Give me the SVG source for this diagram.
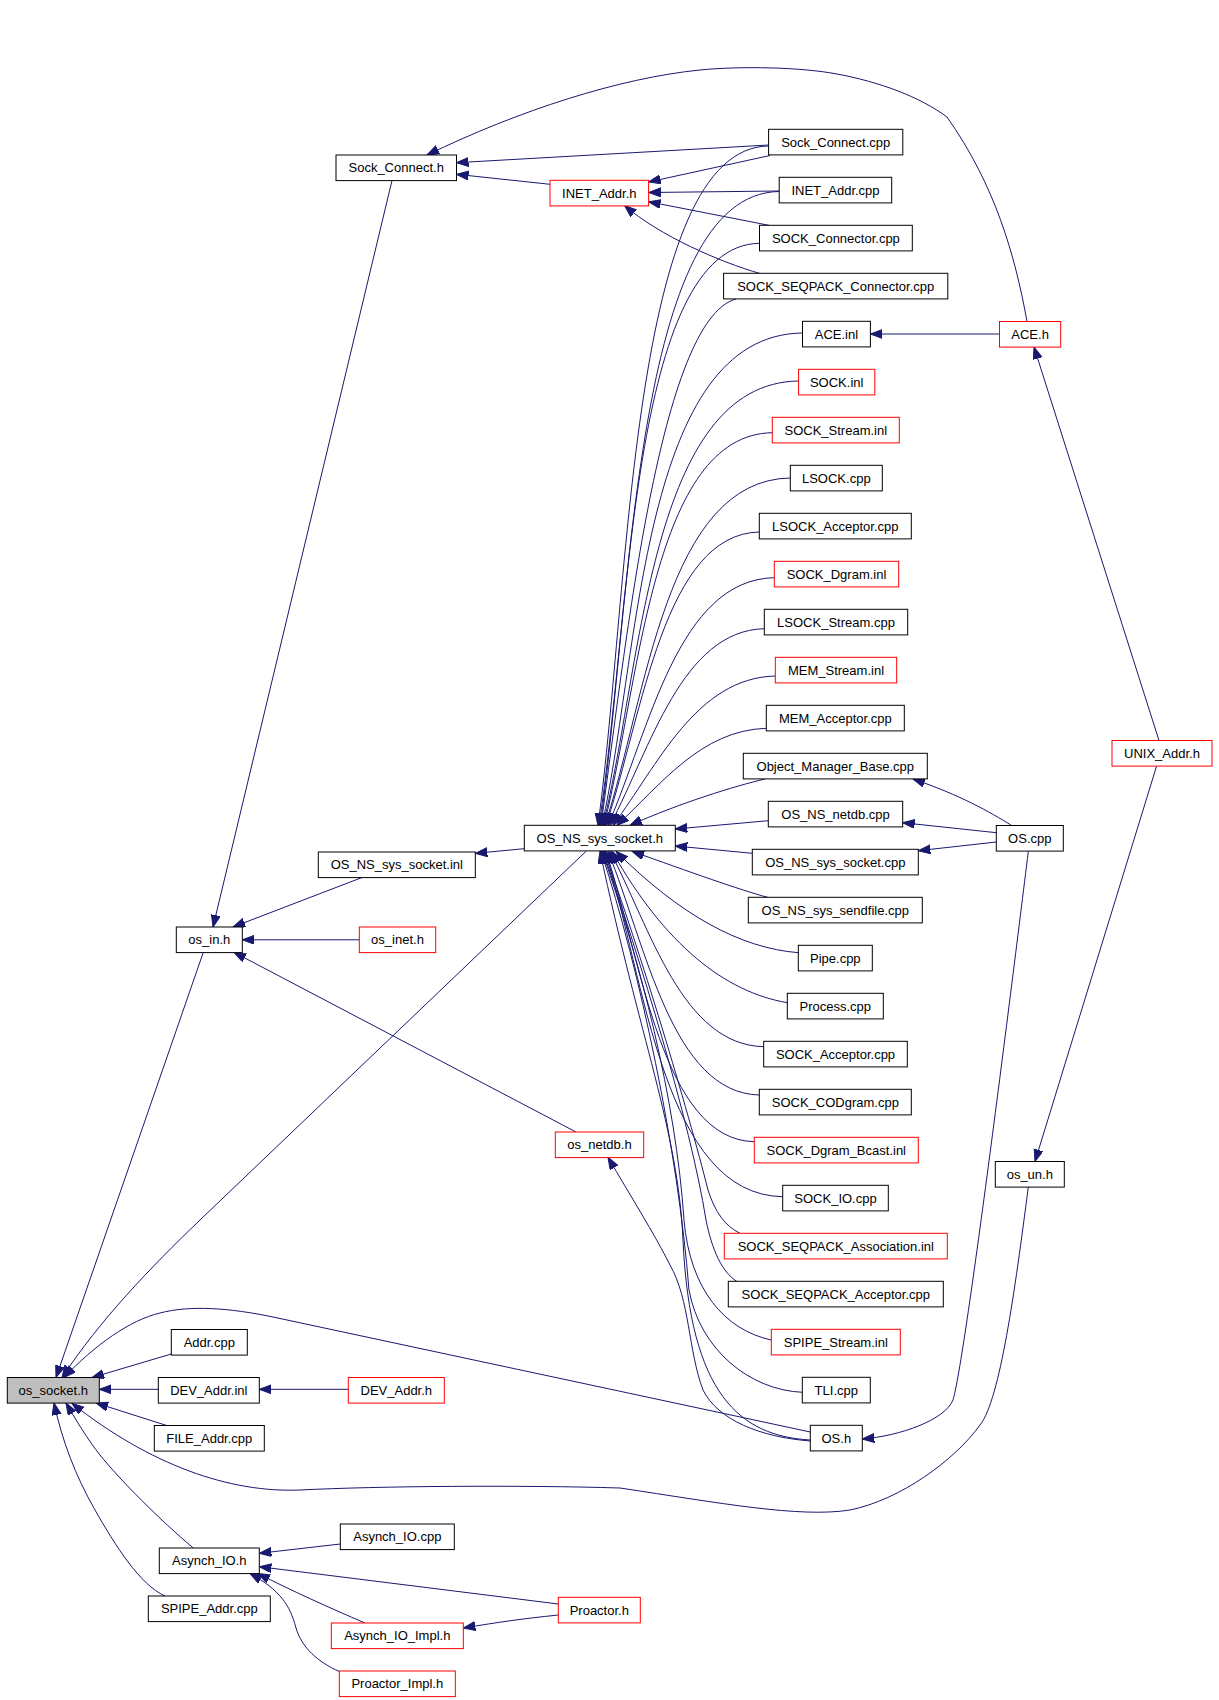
<svg xmlns="http://www.w3.org/2000/svg" width="1219" height="1700" viewBox="0 0 1219 1700">
<style>
.n rect{fill:#ffffff;stroke:#000000;stroke-width:1}
.n.r rect{stroke:#ff0000}
.n.g rect{fill:#bfbfbf}
.n text{font-family:"Liberation Sans",Arial,sans-serif;font-size:13px;fill:#000000;text-anchor:middle}
#edges path{fill:none;stroke:#191970;stroke-width:1;marker-end:url(#arr)}
</style>
<defs>
<marker id="arr" markerWidth="13" markerHeight="10" refX="12" refY="4.5" orient="auto" markerUnits="userSpaceOnUse">
<path d="M0,0 L12,4.5 L0,9 z" fill="#191970" stroke="#191970" stroke-width="1"/>
</marker>
</defs>
<rect x="0" y="0" width="1219" height="1700" fill="#ffffff"/>
<g id="edges">
<path d="M768.6,146 C630.4,148 630.4,584 598,825.3"/>
<path d="M779.2,191.5 C633.2,193.5 633.2,598 599,825.3"/>
<path d="M759.5,243.3 C630.3,245.3 630.3,619 600,825.3"/>
<path d="M736,299 C660,320 626.6,638.4 601,825.3"/>
<path d="M802.5,333 C641.5,335 640.5,649.8 602,825.3"/>
<path d="M798.6,381 C649.7,383 642.7,664.3 603,825.3"/>
<path d="M772.3,432.7 C652.3,434.7 640.4,680.2 604,825.3"/>
<path d="M790.3,478 C666,480 647.2,694.5 605,825.3"/>
<path d="M759.3,532 C664.1,534 643,712.8 606,825.3"/>
<path d="M774.3,577.7 C678,579.7 649.9,728.8 608,825.3"/>
<path d="M764.3,628.7 C682.2,630.7 650.9,747.3 610,825.3"/>
<path d="M775.3,676 C696.1,678 658,765 613,825.3"/>
<path d="M766.3,728.3 C700.6,730.3 660.3,785.3 617,825.3"/>
<path d="M765,779 C735,786 680,803 630,825.3"/>
<path d="M768.3,820.7 L675.3,829"/>
<path d="M752.3,853.3 L675.3,846"/>
<path d="M768.3,897.5 C740,890 690,872 632,851.3"/>
<path d="M798.3,952.7 C740,948 680,915 616,851.3"/>
<path d="M787.3,1002.7 C725,992 665,945 612,851.3"/>
<path d="M763.7,1046.7 C682.1,1044.7 650.8,929.1 610,851.3"/>
<path d="M759.3,1095 C672.3,1093 646.3,946.5 608,851.3"/>
<path d="M754.3,1141.7 C662.5,1139.7 641.9,962.7 606,851.3"/>
<path d="M782.7,1196.7 C663.8,1194.7 645.5,981.3 605,851.3"/>
<path d="M740,1233.3 C725,1226 715,1212 708,1190 C688,1110 640,950 604,851.3"/>
<path d="M736.7,1281.3 C722,1272 712,1250 706,1220 C690,1120 640,960 603,851.3"/>
<path d="M771.3,1340 C725,1330 690,1290 684,1220 C676,1100 640,960 602,851.3"/>
<path d="M802.3,1392.3 C750,1390 700,1350 689,1290 C678,1150 640,970 601,851.3"/>
<path d="M810.3,1440 C740,1436 690,1395 683,1240 C678,1130 640,1040 600,851.3"/>
<path d="M810.3,1441 C760,1437 718,1420 703,1390 C688,1350 690,1300 670,1265 C655,1235 630,1195 608,1157.3"/>
<path d="M810.3,1432 L273,1317 C230,1308 190,1305 160,1313 C130,1320 95,1345 64,1377.5"/>
<path d="M1028.3,851.5 C1010,1000 965,1360 953,1400 C945,1420 900,1436 862.3,1439"/>
<path d="M1028.3,1187 C1015,1290 1000,1400 980,1425 C955,1460 900,1500 850,1510 C800,1518 720,1503 620,1488 C520,1485 380,1486 300,1490 C230,1493 150,1465 72,1403.3"/>
<path d="M586,851.3 L200,1220 C150,1268 100,1320 62,1377.5"/>
<path d="M524.3,848.7 L475.3,853.3"/>
<path d="M203.3,952.3 L56,1377.5"/>
<path d="M392,180.5 L213,927"/>
<path d="M362,877.5 L233,927"/>
<path d="M359.3,939.8 L242.3,939.8"/>
<path d="M576,1132 L234,952.3"/>
<path d="M768.6,145 L456.5,162.7"/>
<path d="M770,155.5 L648.6,182"/>
<path d="M550,184.3 L456.5,174.3"/>
<path d="M779.2,191 L648.6,192.5"/>
<path d="M769.8,225.5 L648.6,201.7"/>
<path d="M760,273.5 C720,262 660,236 624.5,205.5"/>
<path d="M999.5,334 L870.4,334"/>
<path d="M1027,321.5 C1015,255 995,185 947,117 C920,97 880,82 837,74 C800,67 740,66 700,70 C620,78 520,110 427,155"/>
<path d="M1159,740.5 L1034,347"/>
<path d="M1156.6,766 L1035,1161.5"/>
<path d="M1011.7,825.5 C990,812 960,795 913,779"/>
<path d="M996.3,832.7 L902.7,822.7"/>
<path d="M996.3,842 L918.3,850.7"/>
<path d="M171.3,1354 L92,1377.5"/>
<path d="M158.3,1389.3 L99.3,1389.3"/>
<path d="M348.3,1389.3 L259.3,1389.3"/>
<path d="M166.7,1425.5 L96,1403"/>
<path d="M193.3,1548 C160,1520 120,1480 100,1455 C88,1440 76,1420 66,1403"/>
<path d="M165,1596 C140,1585 115,1545 95,1510 C75,1475 62,1440 54,1403"/>
<path d="M340.3,1544 L259.3,1553.3"/>
<path d="M558.3,1604 L259.3,1566.7"/>
<path d="M558.3,1615 C520,1619 500,1622 463.3,1628"/>
<path d="M365,1623 C330,1608 290,1590 258,1573.5"/>
<path d="M339.3,1671.5 C318,1662 302,1648 296,1628 C290,1605 280,1590 250,1573.5"/>
</g>
<g id="n_Sock_Connect_cpp" class="n"><rect x="768.6" y="129.3" width="134.2" height="25.6"/><text x="835.7" y="146.6">Sock_Connect.cpp</text></g>
<g id="n_INET_Addr_cpp" class="n"><rect x="779.2" y="177.3" width="112.5" height="25.6"/><text x="835.5" y="194.6">INET_Addr.cpp</text></g>
<g id="n_SOCK_Connector_cpp" class="n"><rect x="759.5" y="225.3" width="152.8" height="25.6"/><text x="835.9" y="242.6">SOCK_Connector.cpp</text></g>
<g id="n_SOCK_SEQPACK_Connector_cpp" class="n"><rect x="723.6" y="273.3" width="224.2" height="25.6"/><text x="835.7" y="290.6">SOCK_SEQPACK_Connector.cpp</text></g>
<g id="n_ACE_inl" class="n"><rect x="802.5" y="321.3" width="67.9" height="25.6"/><text x="836.4" y="338.6">ACE.inl</text></g>
<g id="n_SOCK_inl" class="n r"><rect x="798.6" y="369.3" width="76.2" height="25.6"/><text x="836.7" y="386.6">SOCK.inl</text></g>
<g id="n_SOCK_Stream_inl" class="n r"><rect x="772.3" y="417.3" width="127" height="25.6"/><text x="835.8" y="434.6">SOCK_Stream.inl</text></g>
<g id="n_LSOCK_cpp" class="n"><rect x="790.3" y="465.3" width="92" height="25.6"/><text x="836.3" y="482.6">LSOCK.cpp</text></g>
<g id="n_LSOCK_Acceptor_cpp" class="n"><rect x="759.3" y="513.3" width="152" height="25.6"/><text x="835.3" y="530.6">LSOCK_Acceptor.cpp</text></g>
<g id="n_SOCK_Dgram_inl" class="n r"><rect x="774.3" y="561.3" width="124.4" height="25.6"/><text x="836.5" y="578.6">SOCK_Dgram.inl</text></g>
<g id="n_LSOCK_Stream_cpp" class="n"><rect x="764.3" y="609.3" width="143.4" height="25.6"/><text x="836" y="626.6">LSOCK_Stream.cpp</text></g>
<g id="n_MEM_Stream_inl" class="n r"><rect x="775.3" y="657.3" width="121.4" height="25.6"/><text x="836" y="674.6">MEM_Stream.inl</text></g>
<g id="n_MEM_Acceptor_cpp" class="n"><rect x="766.3" y="705.3" width="138" height="25.6"/><text x="835.3" y="722.6">MEM_Acceptor.cpp</text></g>
<g id="n_Object_Manager_Base_cpp" class="n"><rect x="743.3" y="753.3" width="184" height="25.6"/><text x="835.3" y="770.6">Object_Manager_Base.cpp</text></g>
<g id="n_OS_NS_netdb_cpp" class="n"><rect x="768.3" y="801.3" width="134.4" height="25.6"/><text x="835.5" y="818.6">OS_NS_netdb.cpp</text></g>
<g id="n_OS_NS_sys_socket_cpp" class="n"><rect x="752.3" y="849.3" width="166" height="25.6"/><text x="835.3" y="866.6">OS_NS_sys_socket.cpp</text></g>
<g id="n_OS_NS_sys_sendfile_cpp" class="n"><rect x="748.3" y="897.3" width="174" height="25.6"/><text x="835.3" y="914.6">OS_NS_sys_sendfile.cpp</text></g>
<g id="n_Pipe_cpp" class="n"><rect x="798.3" y="945.3" width="74" height="25.6"/><text x="835.3" y="962.6">Pipe.cpp</text></g>
<g id="n_Process_cpp" class="n"><rect x="787.3" y="993.3" width="96" height="25.6"/><text x="835.3" y="1010.6">Process.cpp</text></g>
<g id="n_SOCK_Acceptor_cpp" class="n"><rect x="763.7" y="1041.3" width="143.6" height="25.6"/><text x="835.5" y="1058.6">SOCK_Acceptor.cpp</text></g>
<g id="n_SOCK_CODgram_cpp" class="n"><rect x="759.3" y="1089.3" width="152" height="25.6"/><text x="835.3" y="1106.6">SOCK_CODgram.cpp</text></g>
<g id="n_SOCK_Dgram_Bcast_inl" class="n r"><rect x="754.3" y="1137.3" width="164" height="25.6"/><text x="836.3" y="1154.6">SOCK_Dgram_Bcast.inl</text></g>
<g id="n_SOCK_IO_cpp" class="n"><rect x="782.7" y="1185.3" width="105.6" height="25.6"/><text x="835.5" y="1202.6">SOCK_IO.cpp</text></g>
<g id="n_SOCK_SEQPACK_Association_inl" class="n r"><rect x="724.3" y="1233.3" width="223" height="25.6"/><text x="835.8" y="1250.6">SOCK_SEQPACK_Association.inl</text></g>
<g id="n_SOCK_SEQPACK_Acceptor_cpp" class="n"><rect x="728.3" y="1281.3" width="215" height="25.6"/><text x="835.8" y="1298.6">SOCK_SEQPACK_Acceptor.cpp</text></g>
<g id="n_SPIPE_Stream_inl" class="n r"><rect x="771.3" y="1329.3" width="129" height="25.6"/><text x="835.8" y="1346.6">SPIPE_Stream.inl</text></g>
<g id="n_TLI_cpp" class="n"><rect x="802.3" y="1377.3" width="68" height="25.6"/><text x="836.3" y="1394.6">TLI.cpp</text></g>
<g id="n_OS_h" class="n"><rect x="810.3" y="1425.3" width="52" height="25.6"/><text x="836.3" y="1442.6">OS.h</text></g>
<g id="n_Sock_Connect_h" class="n"><rect x="336" y="155" width="120.5" height="25.6"/><text x="396.2" y="172.3">Sock_Connect.h</text></g>
<g id="n_INET_Addr_h" class="n r"><rect x="550" y="180.3" width="98.6" height="25.6"/><text x="599.3" y="197.6">INET_Addr.h</text></g>
<g id="n_ACE_h" class="n r"><rect x="999.5" y="321.5" width="61.2" height="25.6"/><text x="1030.1" y="338.8">ACE.h</text></g>
<g id="n_UNIX_Addr_h" class="n r"><rect x="1112" y="740.5" width="100" height="25.6"/><text x="1162" y="757.8">UNIX_Addr.h</text></g>
<g id="n_OS_cpp" class="n"><rect x="996.3" y="825.5" width="67" height="25.6"/><text x="1029.8" y="842.8">OS.cpp</text></g>
<g id="n_os_un_h" class="n"><rect x="995.3" y="1161.5" width="69" height="25.6"/><text x="1029.8" y="1178.8">os_un.h</text></g>
<g id="n_OS_NS_sys_socket_h" class="n"><rect x="524.3" y="825.3" width="151" height="25.6"/><text x="599.8" y="842.6">OS_NS_sys_socket.h</text></g>
<g id="n_OS_NS_sys_socket_inl" class="n"><rect x="318.3" y="852" width="157" height="25.6"/><text x="396.8" y="869.3">OS_NS_sys_socket.inl</text></g>
<g id="n_os_in_h" class="n"><rect x="176.3" y="927" width="66" height="25.6"/><text x="209.3" y="944.3">os_in.h</text></g>
<g id="n_os_inet_h" class="n r"><rect x="359.3" y="927" width="76.4" height="25.6"/><text x="397.5" y="944.3">os_inet.h</text></g>
<g id="n_os_netdb_h" class="n r"><rect x="555.3" y="1132" width="88.4" height="25.6"/><text x="599.5" y="1149.3">os_netdb.h</text></g>
<g id="n_os_socket_h" class="n g"><rect x="7.3" y="1377.5" width="92" height="25.6"/><text x="53.3" y="1394.8">os_socket.h</text></g>
<g id="n_Addr_cpp" class="n"><rect x="171.3" y="1329.5" width="76" height="25.6"/><text x="209.3" y="1346.8">Addr.cpp</text></g>
<g id="n_DEV_Addr_inl" class="n"><rect x="158.3" y="1377.5" width="101" height="25.6"/><text x="208.8" y="1394.8">DEV_Addr.inl</text></g>
<g id="n_DEV_Addr_h" class="n r"><rect x="348.3" y="1377.5" width="96" height="25.6"/><text x="396.3" y="1394.8">DEV_Addr.h</text></g>
<g id="n_FILE_Addr_cpp" class="n"><rect x="154.3" y="1425.5" width="110" height="25.6"/><text x="209.3" y="1442.8">FILE_Addr.cpp</text></g>
<g id="n_Asynch_IO_cpp" class="n"><rect x="340.3" y="1524" width="114" height="25.6"/><text x="397.3" y="1541.3">Asynch_IO.cpp</text></g>
<g id="n_Asynch_IO_h" class="n"><rect x="159.3" y="1548" width="100" height="25.6"/><text x="209.3" y="1565.3">Asynch_IO.h</text></g>
<g id="n_Proactor_h" class="n r"><rect x="558.3" y="1597.3" width="82" height="25.6"/><text x="599.3" y="1614.6">Proactor.h</text></g>
<g id="n_SPIPE_Addr_cpp" class="n"><rect x="148.3" y="1596" width="122" height="25.6"/><text x="209.3" y="1613.3">SPIPE_Addr.cpp</text></g>
<g id="n_Asynch_IO_Impl_h" class="n r"><rect x="331.3" y="1623" width="132" height="25.6"/><text x="397.3" y="1640.3">Asynch_IO_Impl.h</text></g>
<g id="n_Proactor_Impl_h" class="n r"><rect x="339.3" y="1671" width="116" height="25.6"/><text x="397.3" y="1688.3">Proactor_Impl.h</text></g>
</svg>
